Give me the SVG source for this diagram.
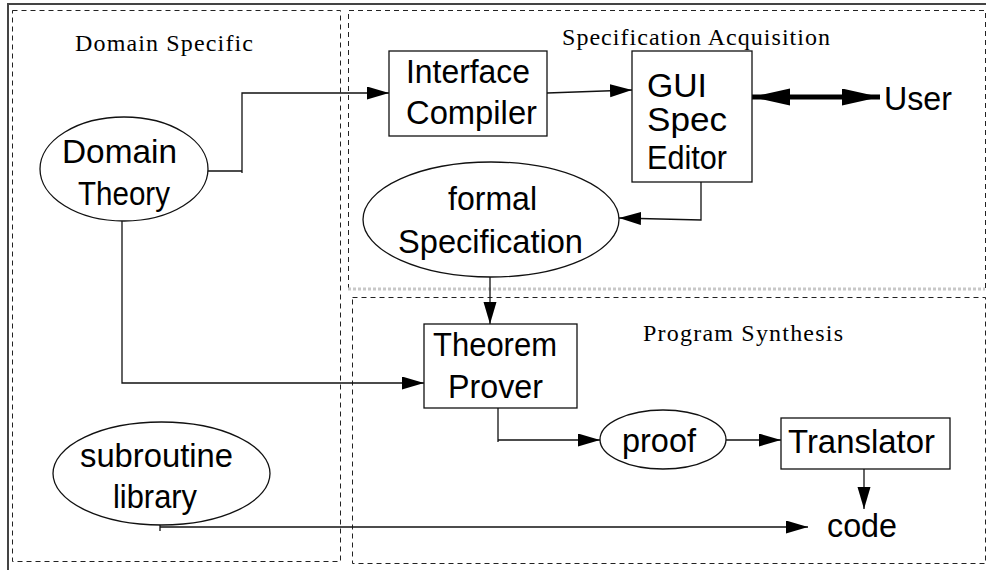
<svg xmlns="http://www.w3.org/2000/svg" width="986" height="570" viewBox="0 0 986 570">
<style>
.frame{fill:none;stroke:#444;stroke-width:2}
.region{fill:none;stroke:#222;stroke-width:1;stroke-dasharray:5 4}
.node{fill:#fff;stroke:#111;stroke-width:1.3}
.lbl{font-family:"Liberation Sans",Arial,sans-serif;font-size:33px;fill:#000}
.title{font-family:"Liberation Serif","Times New Roman",serif;font-size:24px;fill:#000}
.conn{fill:none;stroke:#111;stroke-width:1.3}
</style>
<defs>
<marker id="ah" markerUnits="userSpaceOnUse" markerWidth="24" markerHeight="14" refX="22" refY="6.5" orient="auto">
<path d="M0,0 L22,6.5 L0,13 z" fill="#000"/>
</marker>
<marker id="thick" markerUnits="userSpaceOnUse" markerWidth="40" markerHeight="18" refX="38" refY="8.5" orient="auto-start-reverse">
<path d="M0,0 L38,8.5 L0,17 z" fill="#000"/>
</marker>
</defs>
<rect width="986" height="570" fill="#fff"/>
<g id="frame">
<path class="frame" d="M8,570 V4 H986"/>
</g>
<g id="domain-specific">
<rect class="region" x="12.5" y="10.5" width="328" height="551"/>
<text class="title" x="75" y="51" textLength="178" lengthAdjust="spacing">Domain Specific</text>
</g>
<g id="specification-acquisition">
<path class="region" d="M348.5,289 V10.5 H985.5 V289"/>
<line x1="348" y1="289" x2="985" y2="289" stroke="#c8c8c8" stroke-width="3" stroke-dasharray="3 2"/>
<text class="title" x="562" y="45" textLength="268" lengthAdjust="spacing">Specification Acquisition</text>
</g>
<g id="program-synthesis">
<rect class="region" x="352.5" y="297.5" width="633" height="266"/>
<text class="title" x="643" y="341" textLength="200" lengthAdjust="spacing">Program Synthesis</text>
</g>
<g id="connectors">
<path class="conn" d="M208,171 H242" />
<path class="conn" d="M242,173 V93 H389" marker-end="url(#ah)"/>
<path class="conn" d="M547,93 L632,90" marker-end="url(#ah)"/>
<path d="M752,97 H880" fill="none" stroke="#000" stroke-width="5" marker-start="url(#thick)" marker-end="url(#thick)"/>
<path class="conn" d="M701,182 V220 L619,218" marker-end="url(#ah)"/>
<path class="conn" d="M490,277 V324" marker-end="url(#ah)"/>
<path class="conn" d="M122,221 V383 H424" marker-end="url(#ah)"/>
<path class="conn" d="M498,408 V442"/>
<path class="conn" d="M498,440 H600" marker-end="url(#ah)"/>
<path class="conn" d="M726,440 H781" marker-end="url(#ah)"/>
<path class="conn" d="M864,469 V509" marker-end="url(#ah)"/>
<path class="conn" d="M160,523 V531"/>
<path class="conn" d="M160,527 H808" marker-end="url(#ah)"/>
</g>
<g id="domain-theory">
<ellipse class="node" cx="124" cy="169" rx="84" ry="52"/>
<text class="lbl" x="62" y="163" textLength="115" lengthAdjust="spacingAndGlyphs">Domain</text>
<text class="lbl" x="78" y="205" textLength="92" lengthAdjust="spacingAndGlyphs">Theory</text>
</g>
<g id="interface-compiler">
<rect class="node" x="389" y="51" width="158" height="85"/>
<text class="lbl" x="406" y="83" textLength="124" lengthAdjust="spacingAndGlyphs">Interface</text>
<text class="lbl" x="406" y="124" textLength="131" lengthAdjust="spacingAndGlyphs">Compiler</text>
</g>
<g id="gui-spec-editor">
<rect class="node" x="632" y="51" width="120" height="131"/>
<text class="lbl" x="647" y="97" textLength="60" lengthAdjust="spacingAndGlyphs">GUI</text>
<text class="lbl" x="647" y="131" textLength="80" lengthAdjust="spacingAndGlyphs">Spec</text>
<text class="lbl" x="647" y="169" textLength="80" lengthAdjust="spacingAndGlyphs">Editor</text>
</g>
<g id="user">
<text class="lbl" x="884" y="110" textLength="68" lengthAdjust="spacingAndGlyphs">User</text>
</g>
<g id="formal-specification">
<ellipse class="node" cx="491" cy="219.5" rx="128" ry="57.5"/>
<text class="lbl" x="448" y="210" textLength="89" lengthAdjust="spacingAndGlyphs">formal</text>
<text class="lbl" x="398" y="253" textLength="185" lengthAdjust="spacingAndGlyphs">Specification</text>
</g>
<g id="theorem-prover">
<rect class="node" x="424" y="324" width="153" height="84"/>
<text class="lbl" x="433" y="356" textLength="124" lengthAdjust="spacingAndGlyphs">Theorem</text>
<text class="lbl" x="448" y="398" textLength="95" lengthAdjust="spacingAndGlyphs">Prover</text>
</g>
<g id="proof">
<ellipse class="node" cx="663" cy="439.5" rx="63" ry="29.5"/>
<text class="lbl" x="622" y="452" textLength="74" lengthAdjust="spacingAndGlyphs">proof</text>
</g>
<g id="translator">
<rect class="node" x="781" y="418" width="169" height="51"/>
<text class="lbl" x="788" y="453" textLength="147" lengthAdjust="spacingAndGlyphs">Translator</text>
</g>
<g id="code">
<text class="lbl" x="827" y="537" textLength="70" lengthAdjust="spacingAndGlyphs">code</text>
</g>
<g id="subroutine-library">
<ellipse class="node" cx="161.5" cy="473.5" rx="108.5" ry="51.5"/>
<text class="lbl" x="80" y="467" textLength="153" lengthAdjust="spacingAndGlyphs">subroutine</text>
<text class="lbl" x="113" y="508" textLength="84" lengthAdjust="spacingAndGlyphs">library</text>
</g>
</svg>
